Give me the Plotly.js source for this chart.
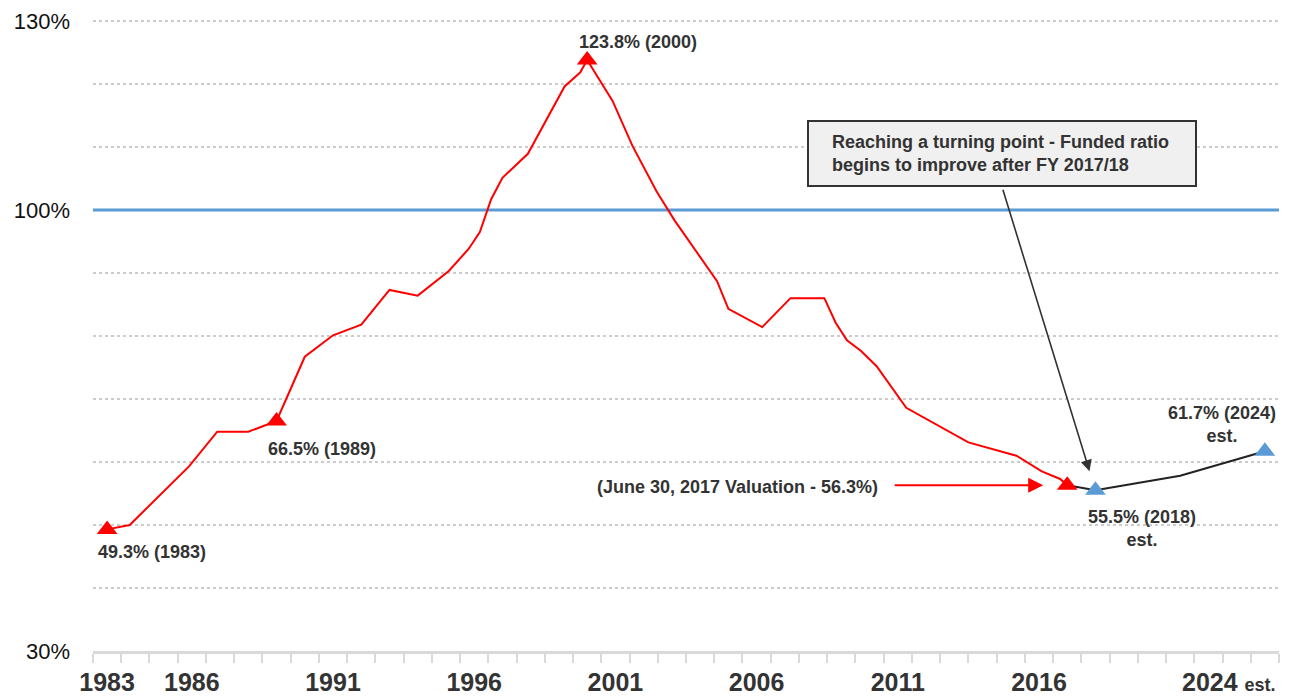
<!DOCTYPE html>
<html>
<head>
<meta charset="utf-8">
<script src="https://cdn.plot.ly/plotly-3.0.1.min.js"></script>
<style>
  html, body { margin: 0; padding: 0; background: #ffffff; }
  #chart { width: 1292px; height: 696px; }
</style>
</head>
<body>
<div id="chart"></div>
<script>
// ---- Data ----
const firstYear = 1983;
const lastYear = 2024;

// Actual funded ratio history (valuation dates, fractional years)
const actualYears = [1983, 1983.8, 1985.9, 1986.9, 1988, 1989, 1990, 1991, 1992, 1993, 1994, 1995.1, 1995.8, 1996.2, 1996.6, 1997, 1997.9, 1999.2, 1999.75, 2000, 2000.9, 2001.6, 2002.45, 2003.1, 2004.6, 2005, 2006.2, 2007.2, 2008.4, 2008.8, 2009.2, 2009.7, 2010.25, 2011.3, 2013.5, 2015.2, 2016.1, 2016.75, 2017];
const actualRatio = [49.3, 50.0, 59.3, 64.8, 64.8, 66.5, 76.7, 80.1, 81.8, 87.3, 86.4, 90.3, 93.8, 96.5, 101.7, 105.1, 108.9, 119.6, 121.8, 123.8, 117.3, 110.2, 103.0, 98.3, 88.7, 84.3, 81.4, 86.0, 86.0, 82.1, 79.3, 77.6, 75.2, 68.6, 63.1, 61.0, 58.5, 57.3, 56.3];

// Projection (estimates)
const projYears = [2017, 2018, 2021, 2024];
const projRatio = [56.3, 55.5, 57.8, 61.7];

// Highlighted points
const redMarkYears = [1983, 1989, 2000, 2017];
const redMarkRatio = [49.3, 66.5, 123.8, 56.3];
const blueMarkYears = [2018, 2024];
const blueMarkRatio = [55.5, 61.7];

// Full funding reference
const fullFunding = 100;

// Axis labels
const xLabelYears = [1983, 1986, 1991, 1996, 2001, 2006, 2011, 2016];
const xLabelText = ['1983', '1986', '1991', '1996', '2001', '2006', '2011', '2016'];
const yLabelVals = [30, 100, 130];
const yLabelText = ['30%', '100%', '130%'];

// ---- Derived ----
const yearBoundaries = [];
for (let y = firstYear; y <= lastYear + 1; y++) yearBoundaries.push(y - 0.5);

const FONT = 'Liberation Sans, Arial, Helvetica, sans-serif';
const TXT = '#333333';
const RED = '#ff0000';
const BLUE = '#5b9bd5';

const traces = [
  {
    x: [firstYear - 0.5, lastYear + 0.5], y: [fullFunding, fullFunding],
    mode: 'lines', line: { color: BLUE, width: 3 }, hoverinfo: 'skip'
  },
  {
    x: actualYears, y: actualRatio, mode: 'lines',
    line: { color: RED, width: 2 }
  },
  {
    x: projYears, y: projRatio, mode: 'lines',
    line: { color: '#222222', width: 2 }
  },
  {
    x: redMarkYears, y: redMarkRatio, mode: 'markers',
    marker: { symbol: 'triangle-up', size: 18, color: RED }
  },
  {
    x: blueMarkYears, y: blueMarkRatio, mode: 'markers',
    marker: { symbol: 'triangle-up', size: 18, color: BLUE }
  }
];

const lbl = { family: FONT, size: 18, color: TXT, weight: 'bold' };

// plot-area geometry (pixels) used for paper-positioned callout box
const PL = 93, PW = 1186, PT = 19, PH = 632;
const px2x = p => (p - PL) / PW;
const py2y = p => (PT + PH - p) / PH;

const annotations = [
  { x: redMarkYears[2], y: redMarkRatio[2], xref: 'x', yref: 'y',
    text: redMarkRatio[2].toFixed(1) + '% (' + redMarkYears[2] + ')',
    showarrow: false, xanchor: 'left', yanchor: 'middle', xshift: -10, yshift: 18, font: lbl },
  { x: redMarkYears[1], y: redMarkRatio[1], xref: 'x', yref: 'y',
    text: redMarkRatio[1].toFixed(1) + '% (' + redMarkYears[1] + ')',
    showarrow: false, xanchor: 'left', yanchor: 'middle', xshift: -11, yshift: -28, font: lbl },
  { x: redMarkYears[0], y: redMarkRatio[0], xref: 'x', yref: 'y',
    text: redMarkRatio[0].toFixed(1) + '% (' + redMarkYears[0] + ')',
    showarrow: false, xanchor: 'left', yanchor: 'middle', xshift: -11, yshift: -23, font: lbl },
  { x: redMarkYears[3], y: redMarkRatio[3], xref: 'x', yref: 'y',
    text: '(June 30, 2017 Valuation - ' + redMarkRatio[3].toFixed(1) + '%)',
    showarrow: false, xanchor: 'right', yanchor: 'middle', xshift: -187, yshift: -2, font: lbl },
  // red arrow
  { x: redMarkYears[3], y: redMarkRatio[3], xref: 'x', yref: 'y', text: '',
    showarrow: true, ax: -174, ay: 0, standoff: 24, arrowcolor: RED,
    arrowwidth: 2, arrowhead: 2, arrowsize: 1.5 },
  { x: blueMarkYears[0], y: blueMarkRatio[0], xref: 'x', yref: 'y',
    text: blueMarkRatio[0].toFixed(1) + '% (' + blueMarkYears[0] + ')<br>est.',
    showarrow: false, xanchor: 'center', yanchor: 'middle', align: 'center', xshift: 47, yshift: -38, font: lbl },
  { x: blueMarkYears[1], y: blueMarkRatio[1], xref: 'x', yref: 'y',
    text: blueMarkRatio[1].toFixed(1) + '% (' + blueMarkYears[1] + ')<br>est.',
    showarrow: false, xanchor: 'center', yanchor: 'middle', align: 'center', xshift: -43, yshift: 27, font: lbl },
  // black arrow from callout box
  { x: blueMarkYears[0], y: blueMarkRatio[0], xref: 'x', yref: 'y', text: '',
    showarrow: true, ax: -93, ay: -302, standoff: 20, arrowcolor: '#333333',
    arrowwidth: 1.6, arrowhead: 2, arrowsize: 1.4 },
  // callout text
  { x: px2x(830), y: py2y(153.5), xref: 'paper', yref: 'paper',
    text: 'Reaching a turning point - Funded ratio<br>begins to improve after FY 2017/18',
    showarrow: false, xanchor: 'left', yanchor: 'middle', align: 'left', font: lbl },
  // last x label
  { x: 1, y: 0, xref: 'paper', yref: 'paper',
    text: String(lastYear) + ' <span style="font-size:18px">est.</span>',
    showarrow: false, xanchor: 'right', yanchor: 'middle', xshift: -1, yshift: -31,
    font: { family: FONT, size: 25, color: TXT, weight: 'bold' } }
];

const shapes = [
  { type: 'rect', xref: 'paper', yref: 'paper',
    x0: px2x(808), x1: px2x(1196), y0: py2y(186), y1: py2y(121),
    fillcolor: '#f0f0f0', line: { color: '#333333', width: 2 }, layer: 'above' }
];

const layout = {
  width: 1292, height: 696,
  margin: { l: PL, r: 1292 - PL - PW, t: PT, b: 696 - PT - PH },
  paper_bgcolor: '#ffffff', plot_bgcolor: '#ffffff',
  showlegend: false,
  font: { family: FONT, color: TXT },
  xaxis: {
    range: [firstYear - 0.5, lastYear + 0.5],
    tickmode: 'array', tickvals: xLabelYears, ticktext: xLabelText,
    ticks: '', showgrid: false, zeroline: false,
    showline: true, linecolor: '#d9d9d9', linewidth: 3,
    tickfont: { family: FONT, size: 25, color: TXT, weight: 'bold' },
    ticklabelstandoff: 7,
    minor: { tickmode: 'array', tickvals: yearBoundaries, ticks: 'outside',
             ticklen: 9, tickwidth: 2, tickcolor: '#d9d9d9', showgrid: false }
  },
  yaxis: {
    range: [30, 130.3],
    tickmode: 'array', tickvals: yLabelVals, ticktext: yLabelText,
    ticks: '', showline: false, zeroline: false,
    showgrid: true, gridcolor: '#cccccc', gridwidth: 2, griddash: 'dot',
    tickfont: { family: FONT, size: 22, color: '#111111' },
    ticklabelstandoff: 22,
    minor: { tickmode: 'linear', tick0: 30, dtick: 10, showgrid: true,
             gridcolor: '#cccccc', gridwidth: 2, griddash: 'dot', ticks: '' }
  },
  annotations: annotations,
  shapes: shapes
};

Plotly.newPlot('chart', traces, layout, { displayModeBar: false, staticPlot: true });
</script>
</body>
</html>
